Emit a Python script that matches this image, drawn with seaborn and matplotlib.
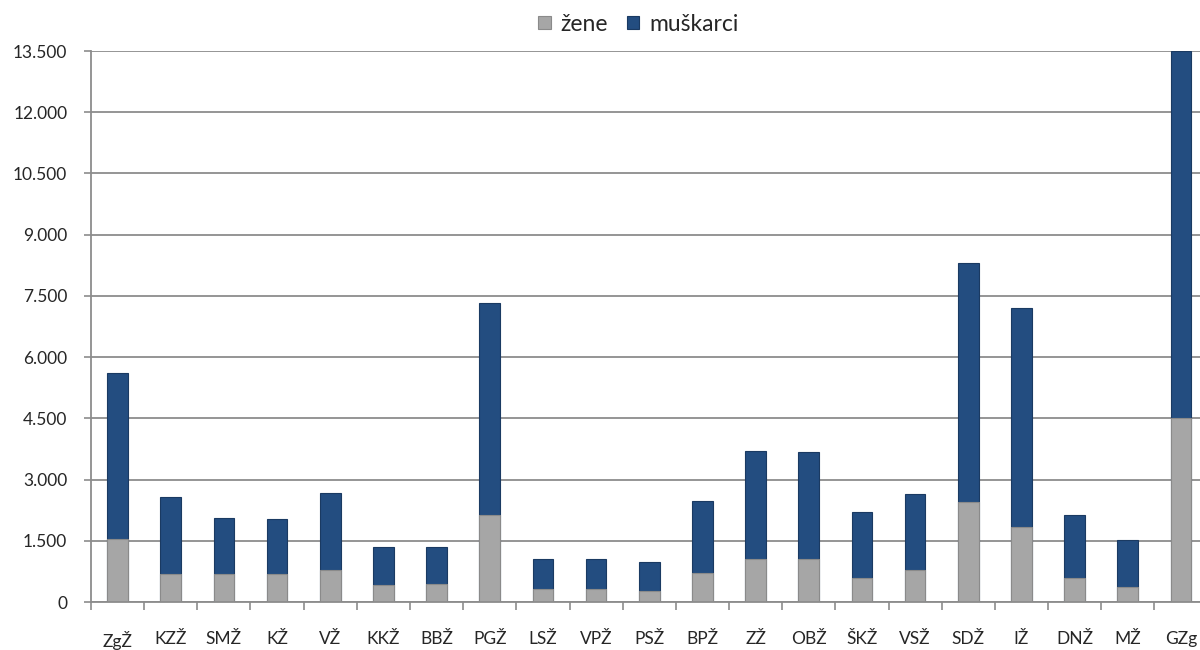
import matplotlib
matplotlib.use('Agg')
import pandas as pd
import seaborn as sns
import matplotlib.pyplot as plt
from matplotlib.ticker import FuncFormatter, FixedLocator

# podaci procitani sa slike
kategorije = ['ZgŽ', 'KZŽ', 'SMŽ', 'KŽ', 'VŽ', 'KKŽ', 'BBŽ', 'PGŽ', 'LSŽ', 'VPŽ', 'PSŽ',
              'BPŽ', 'ZŽ', 'OBŽ', 'ŠKŽ', 'VSŽ', 'SDŽ', 'IŽ', 'DNŽ', 'MŽ', 'GZg']
zene = [1540, 680, 680, 685, 785, 410, 435, 2130, 310, 310, 270,
        710, 1065, 1065, 600, 785, 2460, 1840, 580, 370, 4510]
muskarci = [4060, 1905, 1390, 1360, 1880, 950, 925, 5190, 740, 740, 710,
            1775, 2645, 2610, 1600, 1865, 5835, 5360, 1560, 1140, 8990]
y_ticks = [0, 1500, 3000, 4500, 6000, 7500, 9000, 10500, 12000, 13500]

df = pd.DataFrame({'kat': kategorije, 'zene': zene, 'muskarci': muskarci})
df['ukupno'] = df['zene'] + df['muskarci']

sns.set_style('white')
plt.rcParams['font.family'] = ['Lato', 'DejaVu Sans']

plava = '#234d80'
siva = '#a6a6a6'
mreza = '#8c8c8c'

fig = plt.figure(figsize=(12, 6.5), dpi=100)
# desni rub grafa je odrezan kao na originalu
ax = fig.add_axes([0.0758, 0.0738, 0.9305, 0.8477])

sns.barplot(data=df, x='kat', y='ukupno', color=plava, saturation=1, width=0.39,
            edgecolor='#1a3a62', linewidth=0.8, label='muškarci', ax=ax)
sns.barplot(data=df, x='kat', y='zene', color=siva, saturation=1, width=0.39,
            edgecolor='#8a8a8a', linewidth=0.8, label='žene', ax=ax)
h, l = ax.get_legend_handles_labels()
if ax.get_legend() is not None:
    ax.get_legend().remove()

ax.set_ylim(0, 13500)
ax.set_xlim(-0.5, len(kategorije) - 0.5)
ax.yaxis.set_major_locator(FixedLocator(y_ticks))
ax.yaxis.set_major_formatter(FuncFormatter(lambda v, p: f'{int(v):,}'.replace(',', '.')))
ax.grid(axis='y', color=mreza, linewidth=1.3)
ax.set_axisbelow(True)
ax.set_xlabel('')
ax.set_ylabel('')

for s in ['top', 'right']:
    ax.spines[s].set_visible(False)
for s in ['left', 'bottom']:
    ax.spines[s].set_color(mreza)
    ax.spines[s].set_linewidth(1.3)

ax.tick_params(axis='y', length=5, width=1.2, color=mreza, pad=12, labelsize=12.5, left=True)
ax.tick_params(axis='x', which='major', length=0, pad=21, labelsize=12.5)
ax.set_xticks([i - 0.5 for i in range(len(kategorije) + 1)], minor=True)
ax.tick_params(axis='x', which='minor', length=6, width=1.2, color=mreza, bottom=True)

fig.legend(h[::-1], l[::-1], loc='center', bbox_to_anchor=(0.532, 0.963), ncol=2,
           frameon=False, fontsize=16.5, handlelength=0.55, handleheight=0.55,
           handletextpad=0.45, columnspacing=0.8)

fig.savefig('out.png', dpi=100)
